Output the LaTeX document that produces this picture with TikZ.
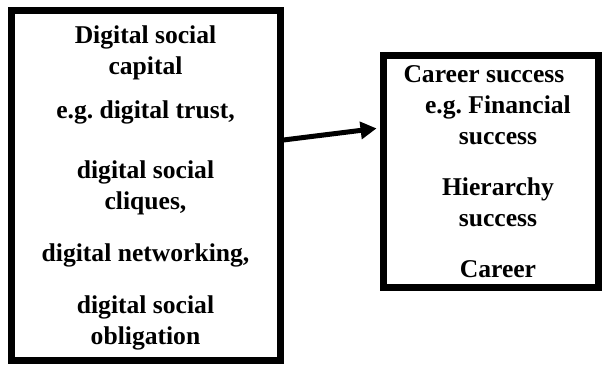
\documentclass[tikz,border=0pt]{standalone}
\usepackage{fontspec}
\setmainfont{Liberation Serif}
\usetikzlibrary{arrows.meta}

\begin{document}
\begin{tikzpicture}[x=0.5pt,y=0.5pt,
  panel/.style={draw,line width=3.5pt,inner sep=0pt},
  txt/.style={inner sep=0pt,align=center,anchor=north,font=\fontsize{12.8}{15.5}\selectfont\bfseries},
  arr/.style={-{Triangle[length=8pt,width=8.5pt]},line width=2.5pt}]
  \useasboundingbox (0,0) rectangle (610,367);
  % left panel
  \node[panel,minimum width=134.5pt,minimum height=175pt] (dsc) at (145.5,181) {};
  \node[txt] (dsctext) at ([yshift=-9pt]dsc.north)
    {Digital social\\capital\\[6.5pt]e.g.\ digital trust,\\[14.5pt]digital social\\cliques,\\[10.5pt]digital networking,\\[10.5pt]digital social\\obligation};
  % right panel
  \node[panel,minimum width=107.25pt,minimum height=116pt] (cs) at (490.75,195) {};
  \node[txt] (cstext) at ([xshift=3.6pt,yshift=-6.5pt]cs.north)
    {Career success\hspace*{14pt}\\e.g.\ Financial\\success\\[10pt]Hierarchy\\success\\[10pt]Career};
  \draw[arr,shorten >=1.75pt] ([yshift=23pt]dsc.east) -- ([yshift=22pt]cs.west);
\end{tikzpicture}
\end{document}
